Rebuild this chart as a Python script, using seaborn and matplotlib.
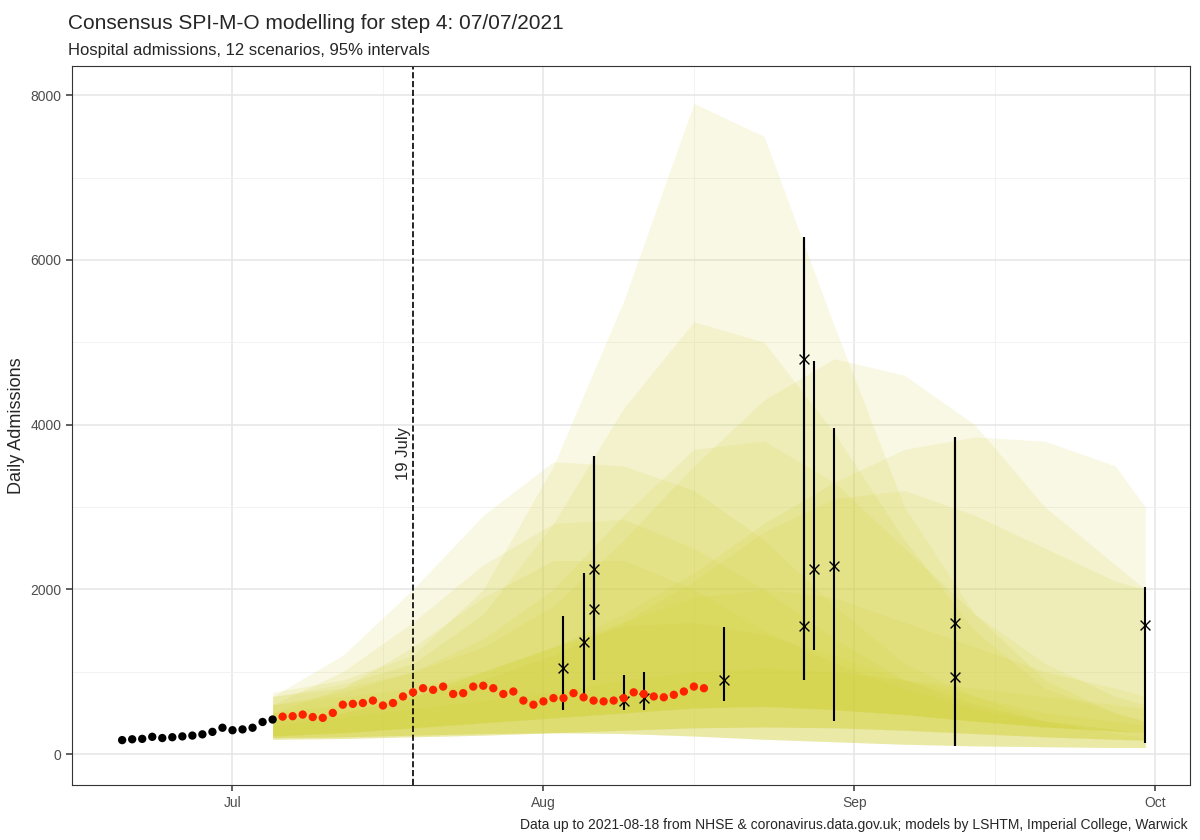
import numpy as np
import pandas as pd
import matplotlib
matplotlib.use("Agg")
import matplotlib.pyplot as plt
import matplotlib.dates as mdates
import seaborn as sns

# observed admissions
black_dates = pd.date_range("2021-06-20", "2021-07-05")
black_vals = [170, 180, 185, 210, 195, 205, 215, 225, 240, 270, 320, 290, 300, 320, 390, 420]
red_dates = pd.date_range("2021-07-06", "2021-08-17")
red_vals = [455, 460, 480, 450, 440, 500, 600, 610, 620, 650, 590, 620, 700, 750, 800,
            780, 820, 730, 740, 820, 830, 800, 730, 760, 650, 600, 640, 680, 680, 740,
            690, 650, 640, 650, 680, 750, 730, 700, 690, 720, 760, 820, 800]

# peak estimates: date, centre, low, high
peak_dates = pd.to_datetime(["2021-08-03", "2021-08-05", "2021-08-06", "2021-08-06", "2021-08-09",
                             "2021-08-11", "2021-08-19", "2021-08-27", "2021-08-27", "2021-08-28",
                             "2021-08-30", "2021-09-11", "2021-09-11", "2021-09-30"])
peak_mid = [1050, 1360, 2250, 1760, 650, 680, 900, 4800, 1560, 2250, 2280, 1590, 940, 1570]
peak_lo = [530, 700, 900, 900, 540, 540, 640, 900, 900, 1260, 400, 100, 100, 130]
peak_hi = [1680, 2200, 3620, 3620, 960, 1000, 1540, 6280, 6280, 4770, 3960, 3850, 3850, 2030]

# scenario ribbons at weekly knots
knots = pd.to_datetime(["2021-07-05", "2021-07-12", "2021-07-19", "2021-07-26", "2021-08-02",
                        "2021-08-09", "2021-08-16", "2021-08-23", "2021-08-30", "2021-09-06",
                        "2021-09-13", "2021-09-20", "2021-09-27", "2021-09-30"])
uppers = [
    [750, 900, 1200, 2000, 3500, 5500, 7900, 7500, 5200, 3000, 1700, 900, 500, 400],
    [700, 850, 1100, 1700, 2800, 4200, 5250, 5000, 3900, 2600, 1500, 800, 500, 400],
    [700, 800, 1000, 1300, 1800, 2600, 3500, 4300, 4800, 4600, 4000, 3000, 2300, 2000],
    [700, 1200, 2000, 2900, 3550, 3500, 3200, 2600, 1800, 1100, 700, 400, 250, 200],
    [600, 700, 800, 1000, 1300, 1700, 2200, 2800, 3300, 3700, 3850, 3800, 3500, 3000],
    [600, 750, 1000, 1400, 2000, 2900, 3700, 3800, 3300, 2500, 1700, 1100, 700, 600],
    [600, 1000, 1600, 2300, 2800, 2850, 2500, 2000, 1400, 900, 600, 400, 300, 250],
    [500, 600, 700, 900, 1200, 1600, 2100, 2700, 3100, 3200, 2900, 2500, 2100, 2000],
    [500, 800, 1300, 1900, 2350, 2350, 2000, 1500, 1100, 800, 550, 400, 300, 250],
    [400, 500, 700, 1000, 1300, 1600, 1900, 2000, 1900, 1600, 1300, 1000, 800, 700],
    [400, 500, 700, 1000, 1300, 1550, 1600, 1450, 1200, 900, 700, 500, 400, 350],
    [350, 450, 550, 650, 750, 900, 1000, 1050, 1000, 900, 800, 700, 600, 550],
]
low_a = [200, 210, 230, 250, 260, 250, 220, 180, 150, 120, 100, 90, 80, 80]
low_b = [220, 260, 320, 380, 440, 500, 560, 580, 540, 480, 400, 330, 280, 260]
low_c = [180, 190, 210, 230, 260, 290, 320, 330, 320, 290, 250, 210, 180, 170]
lowers = [low_a, low_b, low_c, low_a, low_c, low_b, low_a, low_c, low_a, low_b, low_c, low_b]

sns.set_theme(style="whitegrid")
plt.rcParams["font.family"] = ["Liberation Sans", "DejaVu Sans"]

fig = plt.figure(figsize=(12, 8.4), dpi=100)
ax = fig.add_axes([0.06, 0.065, 0.932, 0.856])

for up, lo in zip(uppers, lowers):
    ax.fill_between(knots, lo, up, color="#d2d030", alpha=0.13, linewidth=0)

ax.axvline(pd.Timestamp("2021-07-19"), color="black", ls="--", lw=1.2)
ax.text(pd.Timestamp("2021-07-18"), 3650, "19 July", rotation=90, ha="center", va="center", fontsize=12)

ax.vlines(peak_dates, peak_lo, peak_hi, color="black", lw=1.5)
sns.scatterplot(x=peak_dates, y=peak_mid, marker="x", color="black", s=50, linewidth=1, ax=ax, zorder=5)
sns.scatterplot(x=black_dates, y=black_vals, color="black", s=36, edgecolor="none", ax=ax, zorder=5)
sns.scatterplot(x=red_dates, y=red_vals, color="#ff2200", s=36, edgecolor="none", ax=ax, zorder=5)

ax.set_xlim(pd.Timestamp("2021-06-15"), pd.Timestamp("2021-10-04 12:00"))
ax.set_ylim(-380, 8350)
ax.set_yticks([0, 2000, 4000, 6000, 8000])
ax.set_yticks([1000, 3000, 5000, 7000], minor=True)
ax.xaxis.set_major_locator(mdates.MonthLocator())
ax.xaxis.set_major_formatter(mdates.DateFormatter("%b"))
ax.set_xticks(pd.to_datetime(["2021-06-15", "2021-07-16", "2021-08-16", "2021-09-15"]), minor=True)
ax.grid(which="major", color="#e5e5e5", lw=1.1)
ax.grid(which="minor", color="#f2f2f2", lw=0.7)
ax.tick_params(axis="both", which="major", labelsize=10, colors="#4d4d4d", length=4, left=True, bottom=True)
for s in ax.spines.values():
    s.set_color("#333333")
    s.set_linewidth(0.8)
ax.set_xlabel("")
ax.set_ylabel("Daily Admissions", fontsize=13)

fig.text(0.057, 0.972, "Consensus SPI-M-O modelling for step 4: 07/07/2021", fontsize=15, va="center")
fig.text(0.057, 0.940, "Hospital admissions, 12 scenarios, 95% intervals", fontsize=12, va="center")
fig.text(0.99, 0.018, "Data up to 2021-08-18 from NHSE & coronavirus.data.gov.uk; models by LSHTM, Imperial College, Warwick",
         fontsize=10, ha="right", va="center")

fig.savefig("out.png", dpi=100)
